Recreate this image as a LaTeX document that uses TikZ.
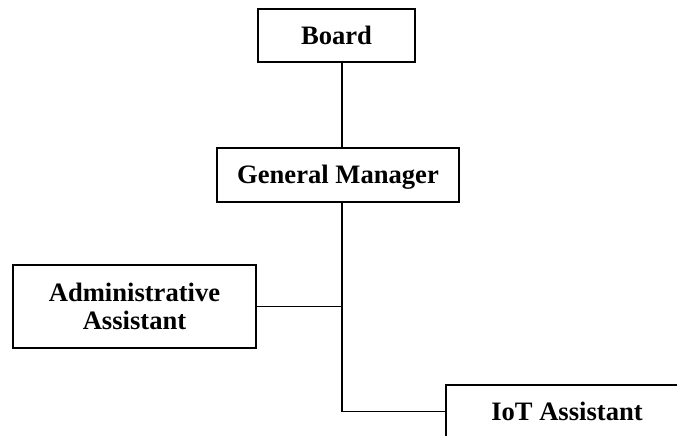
\documentclass[tikz,border=0pt]{standalone}
\usepackage{fontspec}
\setmainfont{Liberation Serif}
\begin{document}
\begin{tikzpicture}[x=1pt,y=-1pt,
  orgbox/.style={draw, line width=1.5pt, inner sep=0pt,
    font=\fontsize{26.6}{28}\selectfont\bfseries},
  oneline/.style={text height=17.5pt, text depth=0pt},
  twoline/.style={align=center},
  link/.style={line width=1.5pt}]
\useasboundingbox (0,0) rectangle (677,436);
\clip (0,0) rectangle (677,436);
\node[orgbox, oneline, minimum width=157pt, minimum height=53pt] (board) at (336.5,35.5) {Board};
\node[orgbox, oneline, minimum width=242pt, minimum height=54pt] (gm) at (338,175) {General Manager};
\node[orgbox, twoline, minimum width=243pt, minimum height=83pt] (admin) at (134.5,306.5) {Administrative\\Assistant};
\node[orgbox, oneline, minimum width=242pt, minimum height=53pt] (iot) at (567,411.5) {IoT Assistant};
\coordinate (trunk) at (342,0);
\draw[link] (board.south -| trunk) -- (gm.north -| trunk);
\draw[link] (gm.south -| trunk) -- (trunk |- iot.west) -- (iot.west);
\draw[link] (admin.east) -- (admin.east -| trunk);
\end{tikzpicture}
\end{document}
